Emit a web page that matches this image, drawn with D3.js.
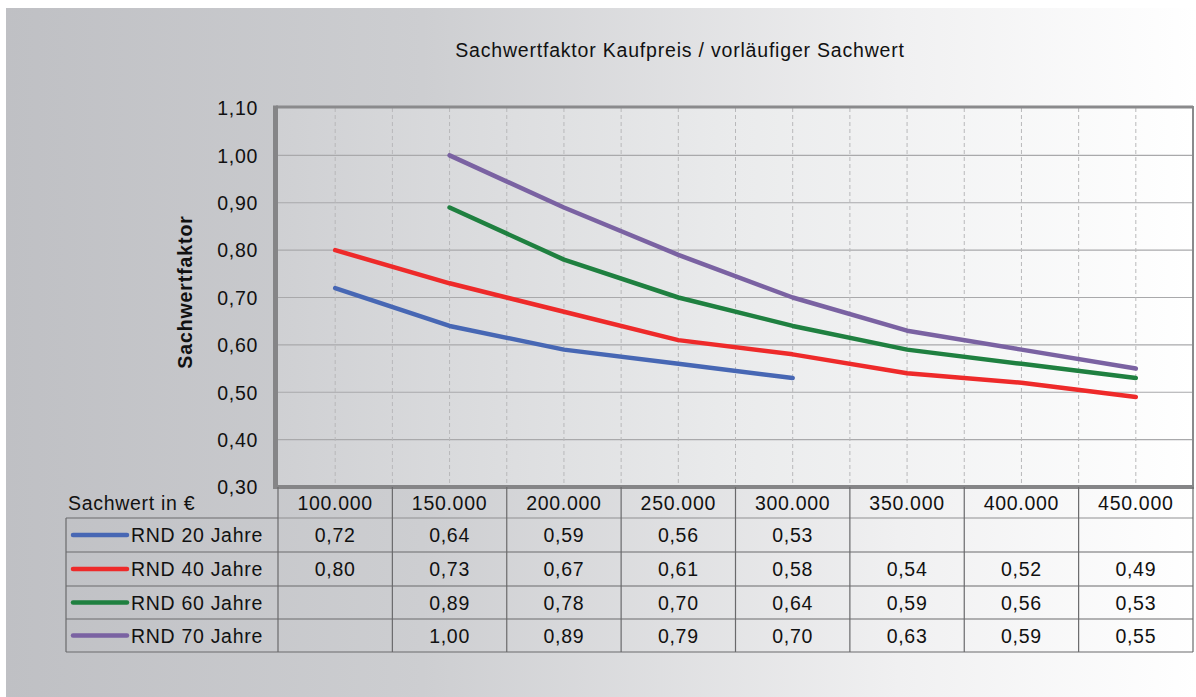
<!DOCTYPE html>
<html><head><meta charset="utf-8">
<script src="https://cdn.jsdelivr.net/npm/d3@7"></script>
<style>body{margin:0;background:#fff}svg{display:block;font-family:"Liberation Sans",Arial,sans-serif}</style>
</head><body>
<script>
const categories = ["100.000","150.000","200.000","250.000","300.000","350.000","400.000","450.000"];
const rnd20 = [0.72,0.64,0.59,0.56,0.53,null,null,null];
const rnd40 = [0.80,0.73,0.67,0.61,0.58,0.54,0.52,0.49];
const rnd60 = [null,0.89,0.78,0.70,0.64,0.59,0.56,0.53];
const rnd70 = [null,1.00,0.89,0.79,0.70,0.63,0.59,0.55];
const seriesNames = ["RND 20 Jahre","RND 40 Jahre","RND 60 Jahre","RND 70 Jahre"];
const seriesColors = ["#4767b4","#ee2a2a","#1f8040","#7a62a2"];
const yTicks = [0.30,0.40,0.50,0.60,0.70,0.80,0.90,1.00,1.10];
const series = [rnd20,rnd40,rnd60,rnd70];

const FS=19.5, LS=0.7;
const W=1196,H=697;
const svg=d3.select("body").append("svg").attr("width",W).attr("height",H);
const defs=svg.append("defs");
const g1=defs.append("linearGradient").attr("id","bg").attr("x1","0").attr("x2","1").attr("y1","0").attr("y2","0");
g1.append("stop").attr("offset","0").attr("stop-color","#bfc0c4");
g1.append("stop").attr("offset","0.35").attr("stop-color","#cdced1");
g1.append("stop").attr("offset","0.75").attr("stop-color","#f0f0f1");
g1.append("stop").attr("offset","1").attr("stop-color","#ffffff");
const g2=defs.append("linearGradient").attr("id","pbg").attr("x1","0").attr("x2","1").attr("y1","0").attr("y2","0");
g2.append("stop").attr("offset","0").attr("stop-color","#cfd0d3");
g2.append("stop").attr("offset","0.5").attr("stop-color","#eaebec");
g2.append("stop").attr("offset","1").attr("stop-color","#ffffff");

svg.append("rect").attr("x",6).attr("y",8).attr("width",W-6).attr("height",689).attr("fill","url(#bg)");

const L=278,R=1193,T=108,B=487;
svg.append("rect").attr("x",L).attr("y",T).attr("width",R-L).attr("height",B-T).attr("fill","url(#pbg)");

const x=d3.scaleBand().domain(categories).range([L,R]);
const y=d3.scaleLinear().domain([0.30,1.10]).range([B,T]);

svg.append("g").selectAll("line").data(yTicks.slice(1,-1)).join("line")
 .attr("x1",L).attr("x2",R).attr("y1",d=>y(d)).attr("y2",d=>y(d)).attr("stroke","#a9a9ab").attr("stroke-width",1.2);
const vx=[];
categories.forEach((c,i)=>{vx.push(x(c)+x.bandwidth()/2); if(i>0) vx.push(x(c));});
svg.append("g").selectAll("line").data(vx).join("line")
 .attr("x1",d=>d).attr("x2",d=>d).attr("y1",T).attr("y2",B).attr("stroke","#b8b8ba").attr("stroke-width",1).attr("stroke-dasharray","4,3");

svg.append("line").attr("x1",L-2).attr("x2",R).attr("y1",T-1).attr("y2",T-1).attr("stroke","#8a8a8c").attr("stroke-width",3);
svg.append("line").attr("x1",R).attr("x2",R).attr("y1",T-2).attr("y2",B).attr("stroke","#8a8a8c").attr("stroke-width",2);
svg.append("line").attr("x1",L-2.5).attr("x2",L-2.5).attr("y1",T-2.5).attr("y2",B+2).attr("stroke","#858587").attr("stroke-width",5);
svg.append("line").attr("x1",L-5).attr("x2",R+1).attr("y1",B).attr("y2",B).attr("stroke","#858587").attr("stroke-width",4);

const yAxis=d3.axisLeft(y).tickValues(yTicks).tickSize(0).tickPadding(0).tickFormat(d=>d3.format(".2f")(d).replace(".",","));
const ya=svg.append("g").attr("transform",`translate(258,0)`).call(yAxis);
ya.select(".domain").remove();
ya.selectAll("text").attr("font-size",FS).attr("letter-spacing",LS).attr("fill","#111").attr("font-family","Liberation Sans, Arial, sans-serif").attr("dy","0.35em");

svg.append("text").attr("transform","translate(192,292) rotate(-90)").attr("text-anchor","middle")
 .attr("font-size",FS).attr("letter-spacing",0.9).attr("font-weight","bold").attr("fill","#111").text("Sachwertfaktor");
svg.append("text").attr("x",680).attr("y",57).attr("text-anchor","middle").attr("font-size",FS).attr("letter-spacing",0.8).attr("fill","#111")
 .text("Sachwertfaktor Kaufpreis / vorläufiger Sachwert");

const line=d3.line().defined(d=>d!=null).x((d,i)=>x(categories[i])+x.bandwidth()/2).y(d=>y(d));
series.forEach((s,k)=>{
  svg.append("path").datum(s).attr("d",line).attr("fill","none").attr("stroke",seriesColors[k])
   .attr("stroke-width",4.5).attr("stroke-linecap","round").attr("stroke-linejoin","round");
});

const rowY=[487,518,552,586,619,652];
const tL=66;
const tg=svg.append("g");
tg.append("line").attr("x1",L).attr("x2",R).attr("y1",rowY[1]).attr("y2",rowY[1]).attr("stroke","#8f8f91").attr("stroke-width",1.2);
[2,3,4,5].forEach(i=>tg.append("line").attr("x1",tL).attr("x2",R).attr("y1",rowY[i]).attr("y2",rowY[i]).attr("stroke","#6a6a6c").attr("stroke-width",1.2));
tg.append("line").attr("x1",tL).attr("x2",L).attr("y1",rowY[1]).attr("y2",rowY[1]).attr("stroke","#6a6a6c").attr("stroke-width",1.2);
tg.append("line").attr("x1",tL).attr("x2",tL).attr("y1",rowY[1]).attr("y2",rowY[5]).attr("stroke","#6a6a6c").attr("stroke-width",1.2);
categories.forEach(c=>tg.append("line").attr("x1",x(c)).attr("x2",x(c)).attr("y1",rowY[0]).attr("y2",rowY[5]).attr("stroke","#6a6a6c").attr("stroke-width",1.2));
tg.append("line").attr("x1",R).attr("x2",R).attr("y1",rowY[0]).attr("y2",rowY[5]).attr("stroke","#6a6a6c").attr("stroke-width",1.2);

tg.append("text").attr("x",68).attr("y",510).attr("font-size",FS).attr("letter-spacing",LS).attr("fill","#111").text("Sachwert in €");
tg.selectAll("text.cat").data(categories).join("text").attr("class","cat")
 .attr("x",d=>x(d)+x.bandwidth()/2).attr("y",510).attr("text-anchor","middle").attr("font-size",FS).attr("letter-spacing",LS).attr("fill","#111").text(d=>d);

series.forEach((s,k)=>{
  const cy=(rowY[k+1]+rowY[k+2])/2;
  tg.append("line").attr("x1",73).attr("x2",127).attr("y1",cy).attr("y2",cy).attr("stroke",seriesColors[k]).attr("stroke-width",4.5).attr("stroke-linecap","round");
  tg.append("text").attr("x",131).attr("y",cy+7).attr("font-size",FS).attr("letter-spacing",LS).attr("fill","#111").text(seriesNames[k]);
  s.forEach((v,i)=>{
    if(v==null) return;
    tg.append("text").attr("x",x(categories[i])+x.bandwidth()/2).attr("y",cy+7).attr("text-anchor","middle")
      .attr("font-size",FS).attr("letter-spacing",LS).attr("fill","#111").text(d3.format(".2f")(v).replace(".",","));
  });
});
</script>
</body></html>
